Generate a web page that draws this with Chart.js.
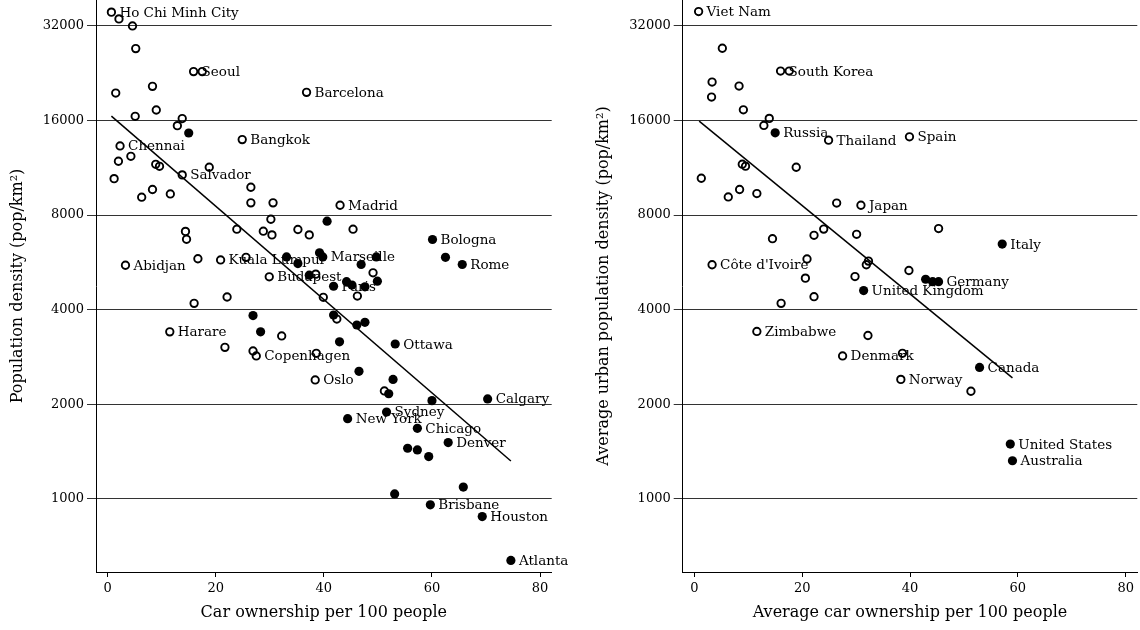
<!DOCTYPE html>
<html>
<head>
<meta charset="utf-8">
<script src="https://cdn.jsdelivr.net/npm/chart.js@4.4.1/dist/chart.umd.min.js"></script>
<style>
  html, body { margin: 0; padding: 0; background: #fff; }
  #wrap { position: relative; width: 1140px; height: 630px; }
  canvas { position: absolute; top: 0; }
</style>
</head>
<body>
<div id="wrap">
  <canvas id="left" width="586" height="630" style="left:0"></canvas>
  <canvas id="right" width="554" height="630" style="left:586px"></canvas>
</div>
<script>
// axis ticks
const xTicks = [0, 20, 40, 60, 80];
const yTicks = [1000, 2000, 4000, 8000, 16000, 32000];

// left panel: cities
const cityOpenX = [0.7, 2.1, 4.6, 5.2, 15.9, 17.5, 8.3, 1.5, 9.0, 5.1, 13.8, 12.9, 24.9, 2.3, 4.3, 2.0, 8.9, 9.6, 18.8, 13.8,
  1.2, 26.5, 8.3, 11.6, 6.3, 26.5, 30.6, 36.8, 43.0, 14.4, 14.6, 23.9, 28.8, 30.4, 30.2, 35.2, 37.3, 45.4, 3.3, 16.7,
  20.9, 25.6, 29.9, 16.0, 22.1, 11.5, 32.2, 21.7, 26.9, 27.5, 49.1, 38.5, 46.2, 39.9, 42.4, 38.6, 38.4, 51.2];
const cityOpenY = [35400, 33700, 32000, 27100, 22900, 22900, 20550, 19570, 17280, 16500, 16230, 15410, 13910, 13280, 12310, 11870, 11610, 11440, 11360, 10740,
  10450, 9810, 9650, 9340, 9120, 8750, 8750, 19670, 8600, 7100, 6700, 7215, 7110, 6920, 7760, 7200, 6920, 7215, 5540, 5810,
  5760, 5870, 5090, 4190, 4390, 3400, 3300, 3035, 2955, 2850, 5240, 5190, 4420, 4380, 3735, 2905, 2390, 2205];
const cityOpenNames = ["Ho Chi Minh City", "", "", "", "Seoul", "", "", "", "", "", "", "", "Bangkok", "Chennai", "", "", "", "", "", "Salvador",
  "", "", "", "", "", "", "", "Barcelona", "Madrid", "", "", "", "", "", "", "", "", "", "Abidjan", "",
  "Kuala Lumpur", "", "Budapest", "", "", "Harare", "", "", "", "Copenhagen", "", "", "", "", "", "", "Oslo", ""];

const cityFilledX = [15.0, 33.1, 35.2, 26.9, 28.3, 40.6, 60.1, 62.5, 65.6, 39.2, 39.8, 49.7, 46.9, 37.3, 41.8, 44.2, 45.2, 47.6, 49.9, 41.8,
  46.1, 47.6, 53.2, 42.9, 46.5, 52.8, 52.0, 60.0, 70.3, 51.6, 44.4, 57.3, 63.0, 55.5, 57.3, 59.4, 65.8, 53.1, 59.7, 69.3, 74.6];
const cityFilledY = [14600, 5890, 5610, 3830, 3400, 7650, 6690, 5870, 5570, 6070, 5890, 5890, 5570, 5150, 4750, 4910, 4790, 4730, 4930, 3845,
  3575, 3645, 3110, 3160, 2546, 2400, 2160, 2054, 2080, 1890, 1800, 1677, 1510, 1449, 1431, 1363, 1090, 1037, 957, 878, 637];
const cityFilledNames = ["", "", "", "", "", "", "Bologna", "", "Rome", "", "Marseille", "", "", "", "Paris", "", "", "", "", "",
  "", "", "Ottawa", "", "", "", "", "", "Calgary", "Sydney", "New York", "Chicago", "Denver", "", "", "", "", "", "Brisbane", "Houston", "Atlanta"];

const cityFitX = [0.7, 74.6];
const cityFitY = [16530, 1320];

// right panel: countries
const countryOpenX = [0.8, 5.2, 16.0, 17.6, 3.3, 8.3, 3.2, 9.1, 13.9, 12.9, 24.9, 39.9, 8.9, 9.5, 18.9, 1.3, 26.4, 8.4, 11.6, 6.3,
  30.9, 14.5, 22.2, 24.0, 30.1, 45.3, 3.3, 20.9, 20.6, 29.8, 32.3, 31.9, 39.8, 22.2, 16.1, 11.6, 27.5, 32.2, 38.6, 38.3, 51.3];
const countryOpenY = [35550, 27170, 22990, 22990, 21210, 20600, 19000, 17310, 16250, 15430, 13850, 14200, 11620, 11450, 11360, 10480, 8740, 9650, 9370, 9140,
  8600, 6730, 6900, 7220, 6950, 7250, 5560, 5800, 5040, 5100, 5710, 5560, 5330, 4400, 4190, 3410, 2850, 3310, 2906, 2400, 2200];
const countryOpenNames = ["Viet Nam", "", "South Korea", "", "", "", "", "", "", "", "Thailand", "Spain", "", "", "", "", "", "", "", "",
  "Japan", "", "", "", "", "", "Côte d'Ivoire", "", "", "", "", "", "", "", "", "Zimbabwe", "Denmark", "", "", "Norway", ""];

const countryFilledX = [15.0, 57.1, 42.9, 44.2, 45.3, 31.4, 52.9, 58.6, 59.0];
const countryFilledY = [14620, 6470, 5000, 4910, 4910, 4600, 2620, 1494, 1322];
const countryFilledNames = ["Russia", "Italy", "", "", "Germany", "United Kingdom", "Canada", "United States", "Australia"];

const countryFitX = [0.9, 59.0];
const countryFitY = [15930, 2427];

const FONT = '"DejaVu Serif", "Liberation Serif", serif';

function pts(xs, ys) {
  return xs.map((x, i) => ({ x: x, y: ys[i] }));
}

// names next to points, drawn under the markers
const nameLabels = {
  id: "nameLabels",
  beforeDatasetsDraw(chart) {
    const ctx = chart.ctx;
    ctx.save();
    ctx.font = "13.5px " + FONT;
    ctx.fillStyle = "#000";
    ctx.textAlign = "left";
    ctx.textBaseline = "middle";
    chart.data.datasets.forEach((ds, di) => {
      if (!ds.names) return;
      const meta = chart.getDatasetMeta(di);
      meta.data.forEach((el, i) => {
        if (ds.names[i]) ctx.fillText(ds.names[i], el.x + 8, el.y + 1);
      });
    });
    ctx.restore();
  }
};

function makePanel(id, openX, openY, openNames, filledX, filledY, filledNames, fitX, fitY, yTitle, xTitle, yWidth, padRight) {
  new Chart(document.getElementById(id), {
    type: "scatter",
    data: {
      datasets: [
        {
          data: pts(fitX, fitY),
          showLine: true,
          borderColor: "#000",
          borderWidth: 1.5,
          pointRadius: 0,
          fill: false
        },
        {
          data: pts(openX, openY),
          names: openNames,
          pointRadius: 3.7,
          borderWidth: 1.9,
          borderColor: "#000",
          backgroundColor: "rgba(0,0,0,0)"
        },
        {
          data: pts(filledX, filledY),
          names: filledNames,
          pointRadius: 4.6,
          borderWidth: 0,
          backgroundColor: "#000"
        }
      ]
    },
    options: {
      responsive: false,
      animation: false,
      layout: { autoPadding: false, padding: { top: 0, left: 0, bottom: 0, right: padRight } },
      plugins: { legend: { display: false }, tooltip: { enabled: false } },
      scales: {
        x: {
          type: "linear",
          bounds: "data",
          min: -2.15,
          max: 82.15,
          afterBuildTicks: s => { s.ticks = xTicks.map(v => ({ value: v })); },
          afterFit: s => { s.height = 58; s.paddingLeft = 0; s.paddingRight = 0; },
          ticks: { color: "#000", font: { family: FONT, size: 13 }, padding: 4, maxRotation: 0 },
          grid: { drawOnChartArea: false, drawTicks: true, tickLength: 5, color: "#000" },
          border: { display: true, color: "#000", width: 1 },
          title: { display: true, text: xTitle, color: "#000", font: { family: FONT, size: 16 }, padding: { top: 4, bottom: 8 } }
        },
        y: {
          type: "logarithmic",
          bounds: "data",
          min: 585,
          max: 38700,
          afterBuildTicks: s => { s.ticks = yTicks.map(v => ({ value: v })); },
          afterFit: s => { s.width = yWidth; s.paddingTop = 0; s.paddingBottom = 0; },
          ticks: { color: "#000", font: { family: FONT, size: 13 }, padding: 3, callback: v => String(v) },
          grid: { color: "#333", lineWidth: 1, tickLength: 9 },
          border: { display: true, color: "#000", width: 1 },
          title: { display: true, text: yTitle, color: "#000", font: { family: FONT, size: 16 }, padding: { top: 8, bottom: 0 } }
        }
      }
    },
    plugins: [nameLabels]
  });
}

makePanel("left", cityOpenX, cityOpenY, cityOpenNames, cityFilledX, cityFilledY, cityFilledNames, cityFitX, cityFitY,
  "Population density (pop/km²)", "Car ownership per 100 people", 96, 34.3);
makePanel("right", countryOpenX, countryOpenY, countryOpenNames, countryFilledX, countryFilledY, countryFilledNames, countryFitX, countryFitY,
  "Average urban population density (pop/km²)", "Average car ownership per 100 people", 96.7, 2.7);
</script>
</body>
</html>
